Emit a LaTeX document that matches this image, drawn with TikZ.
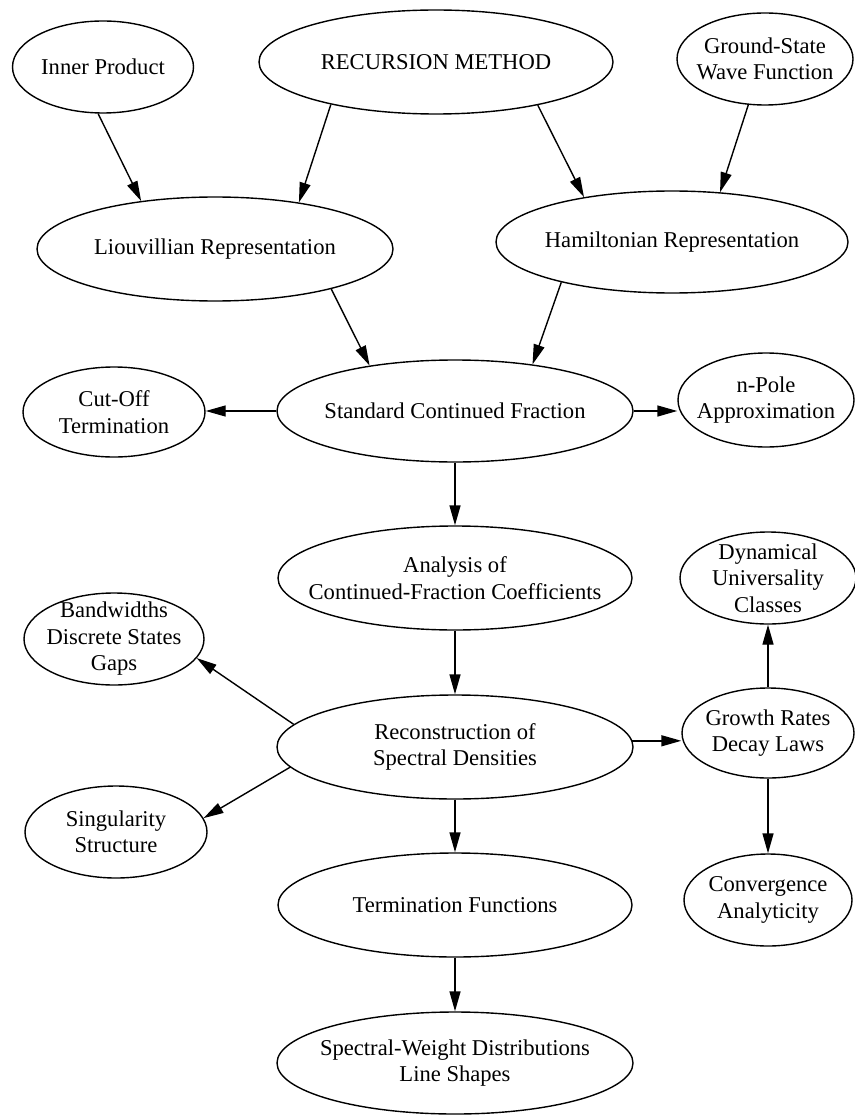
\documentclass[tikz,border=0pt]{standalone}
\usepackage{fontspec}
\setmainfont{Liberation Serif}
\usetikzlibrary{shapes.geometric,arrows.meta}
\begin{document}
\begin{tikzpicture}[x=1pt,y=-1pt,
  ell/.style={ellipse, draw, line width=1.4pt, inner xsep=-40pt, inner ysep=-10pt,
    align=center, font=\fontsize{22.6}{26.5}\selectfont},
  big/.style={ell, minimum width=356pt, minimum height=104pt},
  small/.style={ell, minimum width=178pt, minimum height=92pt},
  arr/.style={line width=1.4pt, -{Triangle[length=20pt,width=11pt]}}]
\useasboundingbox (0,0) rectangle (854,1115);

\node[small, minimum width=181pt] (ip) at (103,67) {Inner Product};
\node[big, minimum width=354pt] (rm) at (436,62) {RECURSION METHOD};
\node[small, minimum width=176pt] (gs) at (765,59) {Ground-State\\Wave Function};
\node[big] (lio) at (215,249) {Liouvillian Representation};
\node[big, minimum width=352pt, minimum height=102pt] (ham) at (672,242) {Hamiltonian Representation};
\node[big, minimum height=102pt] (scf) at (455,411) {Standard Continued Fraction};
\node[small, minimum width=182pt, minimum height=90pt] (cut) at (114,412) {Cut-Off\\Termination};
\node[small, minimum width=176pt, minimum height=94pt] (np) at (766,400) {n-Pole\\Approximation};
\node[big, minimum width=354pt] (ana) at (455,578) {Analysis of\\Continued-Fraction Coefficients};
\node[small, minimum width=176pt] (dyn) at (768,578) {Dynamical\\Universality\\Classes};
\node[small, minimum width=180pt] (bw) at (114,639) {Bandwidths\\Discrete States\\Gaps};
\node[big] (rec) at (455,747) {Reconstruction of\\Spectral Densities};
\node[small, minimum width=172pt, minimum height=90pt] (gr) at (768,733) {Growth Rates\\Decay Laws};
\node[small, minimum width=182pt] (sg) at (116,832) {Singularity\\Structure};
\node[big, minimum width=354pt] (tf) at (455,905) {Termination Functions};
\node[small, minimum width=168pt] (cv) at (768,900) {Convergence\\Analyticity};
\node[big, minimum height=102pt] (sw) at (455,1063) {Spectral-Weight Distributions\\Line Shapes};

\draw[arr] (ip.-96) -- (lio.147.4);
\draw[arr] (rm.202.1) -- (lio.29.8);
\draw[arr] (rm.-23.8) -- (ham.153.9);
\draw[arr] (gs.-110.3) -- (ham.46.1);
\draw[arr] (lio.-19.2) -- (scf.152.2);
\draw[arr] (ham.-160.7) -- (scf.31.9);
\draw[arr] (scf.west) -- (cut.east |- scf.west);
\draw[arr] (scf.east) -- (np.west |- scf.east);
\draw[arr] (scf.south) -- (ana.north);
\draw[arr] (ana.south) -- (rec.north);
\draw[arr] (rec.172.9) -- (bw.-13.2);
\draw[arr] (rec.187) -- (sg.9.7);
\draw[arr] (rec.2.6) -- (gr.west |- rec.2.6);
\draw[arr] (gr.north) -- (dyn.south);
\draw[arr] (gr.south) -- (cv.north);
\draw[arr] (rec.south) -- (tf.north);
\draw[arr] (tf.south) -- (sw.north);
\end{tikzpicture}
\end{document}
